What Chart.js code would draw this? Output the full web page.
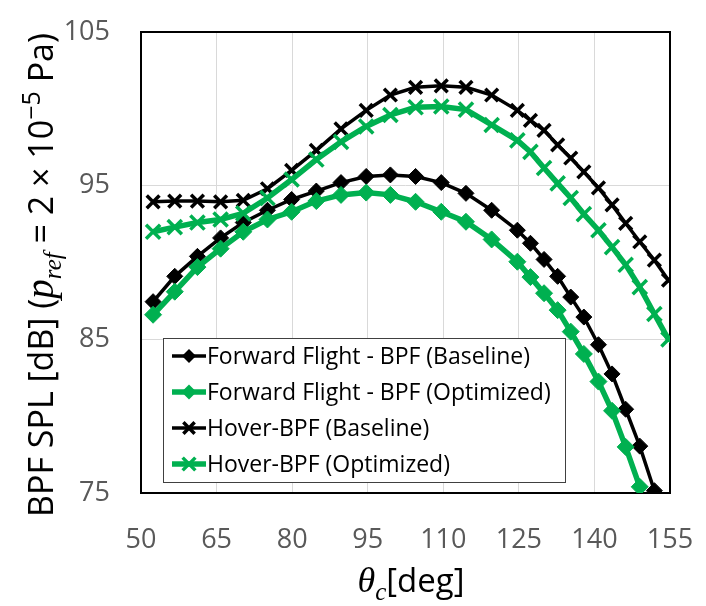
<!DOCTYPE html>
<html>
<head>
<meta charset="utf-8">
<script src="https://cdn.jsdelivr.net/npm/chart.js@4.4.1/dist/chart.umd.min.js"></script>
<style>
	html, body { margin: 0; padding: 0; background: #fff; }
	canvas { display: block; }
</style>
</head>
<body>
<canvas id="bpfChart" width="706" height="606"></canvas>
<script>
const ctx = document.getElementById('bpfChart');

// observer angle theta_c [deg], shared by all series
const theta = [52.4, 56.7, 61.2, 65.8, 70.3, 75.1, 79.9, 84.8, 89.7, 94.7, 99.5, 104.5, 109.6, 114.5, 119.6, 124.7, 127.3, 130.0, 132.7, 135.3, 137.9, 140.8, 143.5, 146.2, 149.0, 151.9, 154.7];

const ffBaseline = [87.45, 89.1, 90.4, 91.6, 92.6, 93.4, 94.1, 94.65, 95.2, 95.6, 95.7, 95.6, 95.2, 94.5, 93.4, 92.1, 91.25, 90.2, 89.1, 87.75, 86.45, 84.65, 82.75, 80.45, 78.05, 75.15];
const ffOptimized = [86.6, 88.1, 89.7, 90.9, 92.0, 92.8, 93.3, 94.0, 94.4, 94.55, 94.4, 93.95, 93.3, 92.65, 91.5, 90.05, 89.05, 88.0, 86.9, 85.5, 84.05, 82.25, 80.35, 78.0, 75.4];
const hoverBaseline = [93.95, 94.0, 94.0, 93.95, 94.05, 94.8, 96.0, 97.3, 98.7, 99.9, 100.9, 101.4, 101.5, 101.4, 100.9, 99.9, 99.25, 98.6, 97.65, 96.8, 95.9, 94.85, 93.75, 92.55, 91.35, 90.15, 88.85];
const hoverOptimized = [92.0, 92.3, 92.6, 92.8, 93.2, 94.2, 95.4, 96.7, 97.85, 98.85, 99.6, 100.1, 100.15, 99.95, 98.95, 97.95, 97.2, 96.15, 95.15, 94.2, 93.15, 92.1, 91.0, 89.85, 88.4, 86.65, 85.0];

const seriesNames = ['Forward Flight - BPF (Baseline)', 'Forward Flight - BPF (Optimized)', 'Hover-BPF (Baseline)', 'Hover-BPF (Optimized)'];

const xTicks = [50, 155, 15];   // min, max, step
const yTicks = [75, 105, 10];

const BLACK = '#000000';
const GREEN = '#00b050';
const SANS = "'Open Sans', sans-serif";
const SERIF = "'Liberation Serif', serif";

function toPoints(values) {
	return values.map((v, i) => ({ x: theta[i], y: v }));
}

function makeSeries(i, values, color, marker, width, radius, markerWidth) {
	return {
		label: seriesNames[i],
		data: toPoints(values),
		showLine: true,
		borderColor: color,
		backgroundColor: color,
		borderWidth: width,
		pointStyle: marker,
		pointRadius: radius,
		pointBorderWidth: markerWidth,
		pointBorderColor: color,
		pointBackgroundColor: color,
		tension: 0,
		order: 4 - i,
	};
}

const datasets = [
	makeSeries(0, ffBaseline, BLACK, 'rectRot', 3.5, 8, 1),
	makeSeries(1, ffOptimized, GREEN, 'rectRot', 5.5, 8.5, 1),
	makeSeries(2, hoverBaseline, BLACK, 'crossRot', 3.5, 9, 3.5),
	makeSeries(3, hoverOptimized, GREEN, 'crossRot', 5.5, 10, 3.5),
];

// plot area outline (Excel draws all four sides)
const frame = {
	id: 'frame',
	beforeDatasetsDraw(chart) {
		const a = chart.chartArea;
		const c = chart.ctx;
		c.save();
		c.strokeStyle = '#000';
		c.lineWidth = 2;
		c.strokeRect(a.left, a.top, a.right - a.left, a.bottom - a.top);
		c.restore();
	}
};

function marker(c, style, x, y, r, color, lw) {
	c.save();
	c.fillStyle = color;
	c.strokeStyle = color;
	c.lineWidth = lw;
	c.beginPath();
	if (style === 'rectRot') {
		c.moveTo(x, y - r);
		c.lineTo(x + r, y);
		c.lineTo(x, y + r);
		c.lineTo(x - r, y);
		c.closePath();
		c.fill();
	} else {
		const d = r * Math.SQRT1_2;
		c.moveTo(x - d, y - d);
		c.lineTo(x + d, y + d);
		c.moveTo(x + d, y - d);
		c.lineTo(x - d, y + d);
		c.stroke();
	}
	c.restore();
}

// legend inside the plot, lower left
const legendBox = {
	id: 'legendBox',
	afterDatasetsDraw(chart) {
		const c = chart.ctx;
		const left = 163, top = 338, w = 402, h = 144;
		c.save();
		c.fillStyle = '#fff';
		c.fillRect(left, top, w, h);
		c.strokeStyle = '#404040';
		c.lineWidth = 1;
		c.strokeRect(left + 0.5, top + 0.5, w, h);
		chart.data.datasets.forEach((ds, i) => {
			const y = top + 18 + i * 36;
			c.strokeStyle = ds.borderColor;
			c.lineWidth = ds.borderWidth;
			c.beginPath();
			c.moveTo(172, y);
			c.lineTo(206, y);
			c.stroke();
			marker(c, ds.pointStyle, 189, y, ds.pointRadius - 1, ds.borderColor, ds.pointBorderWidth);
			c.fillStyle = '#000';
			c.font = '23px ' + SANS;
			c.textBaseline = 'middle';
			c.textAlign = 'left';
			c.fillText(ds.label, 207, y + 1);
		});
		c.restore();
	}
};

function drawRun(c, parts, cx, baseY) {
	let total = 0;
	parts.forEach(p => { c.font = p.font; total += c.measureText(p.t).width; });
	let x = cx - total / 2;
	parts.forEach(p => {
		c.font = p.font;
		c.fillText(p.t, x, baseY + (p.dy || 0));
		x += c.measureText(p.t).width;
	});
}

// axis titles with math pieces (italic p_ref, theta_c, superscript)
const axisTitles = {
	id: 'axisTitles',
	afterDraw(chart) {
		const c = chart.ctx;
		c.save();
		c.fillStyle = '#000';
		c.textBaseline = 'alphabetic';
		c.textAlign = 'left';

		c.save();
		c.translate(41, 275);
		c.rotate(-Math.PI / 2);
		drawRun(c, [
			{ t: 'BPF SPL [dB] (', font: '34px ' + SANS },
			{ t: 'p', font: 'italic 39px ' + SERIF },
			{ t: 'ref', font: 'italic 25px ' + SERIF, dy: 8 },
			{ t: ' = 2 × 10', font: '34px ' + SANS },
			{ t: '−5', font: '25px ' + SANS, dy: -13 },
			{ t: ' Pa)', font: '34px ' + SANS },
		], 0, 12);
		c.restore();

		drawRun(c, [
			{ t: 'θ', font: 'italic 36px ' + SERIF },
			{ t: 'c', font: 'italic 25px ' + SERIF, dy: 8 },
			{ t: '[deg]', font: '33px ' + SANS },
		], 411, 592);
		c.restore();
	}
};

new Chart(ctx, {
	type: 'scatter',
	data: { datasets },
	options: {
		responsive: false,
		animation: false,
		layout: {
			padding: { top: 32, right: 36, left: 0, bottom: 0 }
		},
		plugins: {
			legend: { display: false },
			tooltip: { enabled: false }
		},
		scales: {
			x: {
				type: 'linear',
				min: xTicks[0],
				max: xTicks[1],
				afterFit(scale) {
					scale.height = 113;
					scale.paddingLeft = 0;
					scale.paddingRight = 0;
				},
				ticks: {
					stepSize: xTicks[2],
					color: '#595959',
					font: { family: SANS, size: 27 },
					padding: 31,
					maxRotation: 0,
					autoSkip: false
				},
				grid: { color: '#d9d9d9', lineWidth: 1, drawTicks: false },
				border: { display: false }
			},
			y: {
				min: yTicks[0],
				max: yTicks[1],
				afterFit(scale) {
					scale.width = 141;
					scale.paddingTop = 0;
					scale.paddingBottom = 0;
				},
				ticks: {
					stepSize: yTicks[2],
					color: '#595959',
					font: { family: SANS, size: 27 },
					padding: 31
				},
				grid: { color: '#d9d9d9', lineWidth: 1, drawTicks: false },
				border: { display: false }
			}
		}
	},
	plugins: [frame, legendBox, axisTitles]
});
</script>
</body>
</html>
